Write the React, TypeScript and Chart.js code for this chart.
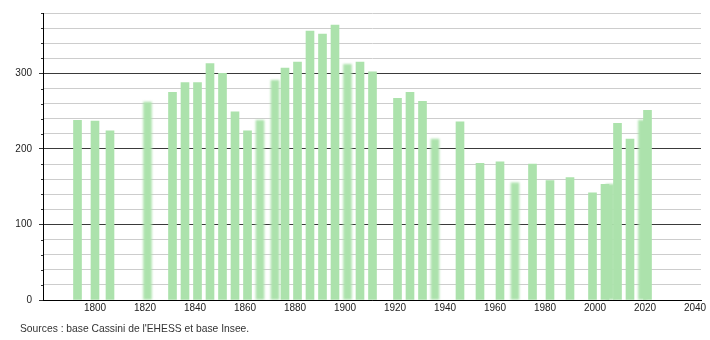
import React, { useEffect, useRef } from "react";
import { Chart, registerables } from "chart.js";

Chart.register(...registerables);

// Census years and population
const years = [
  1793, 1800, 1806, 1821, 1831, 1836, 1841, 1846, 1851, 1856, 1861, 1866, 1872,
  1876, 1881, 1886, 1891, 1896, 1901, 1906, 1911, 1921, 1926, 1931, 1936, 1946,
  1954, 1962, 1968, 1975, 1982, 1990, 1999, 2004, 2006, 2009, 2014, 2019, 2021,
];
const population = [
  238, 237, 224, 262, 275, 288, 288, 313, 300, 249, 224, 238, 291,
  307, 315, 356, 352, 364, 312, 315, 302, 267, 275, 263, 213, 236,
  181, 183, 155, 180, 158, 162, 142, 153, 153, 234, 213, 238, 251,
];
// bars that look soft / blurred in the reference
const softYears = [1821, 1866, 1872, 1901, 1936, 1968, 2006, 2019];

const xTickLabels = [1800, 1820, 1840, 1860, 1880, 1900, 1920, 1940, 1960, 1980, 2000, 2020, 2040];
const yTickLabels = [0, 100, 200, 300];

const xMin = 1779.2;
const xMax = 2042.4;
const xStep = 20;
const yMax = 380;
const yStep = 20;
const sourceText = "Sources : base Cassini de l'EHESS et base Insee.";

const FONT = "'Liberation Sans', Arial, Helvetica, sans-serif";
const BAR = "rgb(172, 226, 172)";

export default function App() {
  const ref = useRef<HTMLCanvasElement | null>(null);

  useEffect(() => {
    if (!ref.current) return;
    const points = years.map((y, i) => ({ x: y, y: population[i] }));
    const sharp = points.filter((p) => !softYears.includes(p.x));
    const soft = points.filter((p) => softYears.includes(p.x));
    const isMajor = (v: number) => yTickLabels.includes(v);

    const softPlugin = {
      id: "softBars",
      beforeDatasetDraw(chart: any, args: any) {
        if (args.index === 1) {
          chart.ctx.save();
          chart.ctx.filter = "blur(1.3px)";
        }
      },
      afterDatasetDraw(chart: any, args: any) {
        if (args.index === 1) chart.ctx.restore();
      },
    };

    const minorTicks = {
      id: "minorTicks",
      afterDraw(chart: any) {
        const ys = chart.scales.y;
        const ctx = chart.ctx;
        ctx.save();
        ctx.strokeStyle = "#333";
        ctx.lineWidth = 1;
        ys.ticks.forEach((t: any) => {
          if (!isMajor(t.value)) {
            const py = Math.round(ys.getPixelForValue(t.value)) + 0.5;
            ctx.beginPath();
            ctx.moveTo(ys.right - 2, py);
            ctx.lineTo(ys.right, py);
            ctx.stroke();
          }
        });
        ctx.restore();
      },
    };

    const chart = new Chart(ref.current, {
      type: "bar",
      data: {
        datasets: [
          { data: sharp, backgroundColor: BAR, borderWidth: 0, barThickness: 8, grouped: false } as any,
          { data: soft, backgroundColor: BAR, borderWidth: 0, barThickness: 8, grouped: false } as any,
        ],
      },
      options: {
        animation: false,
        responsive: false,
        devicePixelRatio: 1,
        layout: { padding: { top: 11, right: 9, left: 0, bottom: 0 } },
        plugins: {
          legend: { display: false },
          tooltip: { enabled: false },
        },
        scales: {
          x: {
            type: "linear",
            offset: false,
            min: xMin,
            max: xMax,
            afterFit: (s: any) => {
              s.height = 40;
            },
            ticks: {
              stepSize: xStep,
              includeBounds: false,
              autoSkip: false,
              maxRotation: 0,
              padding: 2,
              color: "#222",
              font: { family: FONT, size: 10 },
              callback: (v: any) => (xTickLabels.includes(Number(v)) ? String(v) : ""),
            },
            grid: { display: false, drawTicks: false, offset: false },
            border: { display: true, color: "#000", width: 1 },
          },
          y: {
            min: 0,
            max: yMax,
            afterFit: (s: any) => {
              s.width = 43;
            },
            ticks: {
              stepSize: yStep,
              padding: 7,
              color: "#222",
              font: { family: FONT, size: 10 },
              callback: (v: any) => (isMajor(Number(v)) ? String(v) : ""),
            },
            grid: {
              color: (c: any) => (c.tick && isMajor(c.tick.value) ? "#3a3a3a" : "#cdcdcd"),
              tickColor: (c: any) => (c.tick && isMajor(c.tick.value) ? "#333" : "rgba(0,0,0,0)"),
              tickLength: 4,
              lineWidth: 1,
            },
            border: { display: true, color: "#000", width: 1 },
          },
        },
      },
      plugins: [softPlugin, minorTicks],
    });
    return () => chart.destroy();
  }, []);

  return (
    <div style={{ position: "fixed", left: 0, top: 0, width: 710, height: 340, background: "#fff" }}>
      <canvas ref={ref} width={710} height={340} style={{ display: "block" }} />
      <div
        style={{
          position: "absolute",
          left: 20,
          top: 323,
          fontFamily: FONT,
          fontSize: 10.3,
          lineHeight: "12px",
          color: "#333",
          whiteSpace: "nowrap",
        }}
      >
        {sourceText}
      </div>
    </div>
  );
}
